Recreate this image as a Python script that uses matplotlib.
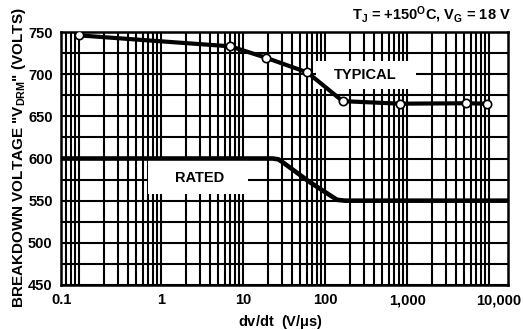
import matplotlib.pyplot as plt
from matplotlib.patches import Rectangle
from matplotlib.ticker import FixedLocator, LogLocator, NullFormatter
from matplotlib.transforms import ScaledTranslation

plt.rcParams['font.family'] = ['Liberation Sans', 'DejaVu Sans']
plt.rcParams['font.weight'] = 'bold'
plt.rcParams['mathtext.fontset'] = 'custom'
plt.rcParams['mathtext.rm'] = 'Liberation Sans:bold'
plt.rcParams['mathtext.it'] = 'Liberation Sans:bold'
plt.rcParams['mathtext.bf'] = 'Liberation Sans:bold'

# typical breakdown voltage (circles)
typ_dvdt = [0.1, 7.0, 19, 61, 164, 820, 5200, 9500]
typ_volts = [746, 733, 719.5, 702, 668, 665, 665.5, 665]

# rated breakdown voltage
rated_dvdt = [0.06, 23, 27, 31, 65, 140, 175, 17000]
rated_volts = [600, 600, 599, 595, 572, 551, 550, 550]

x_ticks = [0.1, 1, 10, 100, 1000, 10000]
x_labels = ['0.1', '1', '10', '100', '1,000', '10,000']
y_ticks = [450, 500, 550, 600, 650, 700, 750]

fig = plt.figure(figsize=(5.23, 3.30), dpi=100)
ax = fig.add_axes([61/523, 45/330, 447/523, 253/330])

# the printed grid runs a bit past 0.1 and 10,000
ax.set_xscale('log')
ax.set_xlim(0.0603, 17000)
ax.set_ylim(450, 750)
ax.xaxis.set_major_locator(FixedLocator(x_ticks))
ax.xaxis.set_minor_locator(LogLocator(base=10, subs=range(2, 10), numticks=20))
ax.xaxis.set_minor_formatter(NullFormatter())
ax.set_xticks(x_ticks)
ax.set_xticklabels(x_labels)
ax.set_yticks(y_ticks)
ax.yaxis.set_minor_locator(FixedLocator(range(475, 750, 50)))

ax.set_axisbelow(True)
ax.grid(True, which='both', color='black', linewidth=1.5)
ax.tick_params(which='both', length=0, labelsize=10.5)
ax.tick_params(axis='x', pad=6)
ax.tick_params(axis='y', pad=6)
for s in ax.spines.values():
    s.set_linewidth(1.8)

# labels at the ends sit off their grid lines, as printed
xl = ax.get_xticklabels()
xl[0].set_transform(xl[0].get_transform() + ScaledTranslation(-0.17, 0, fig.dpi_scale_trans))
xl[-1].set_transform(xl[-1].get_transform() + ScaledTranslation(0.10, 0, fig.dpi_scale_trans))

# white label boxes that break the grid
ax.add_patch(Rectangle((0.570, 0.775), 0.224, 0.111, transform=ax.transAxes,
                       facecolor='white', edgecolor='none', zorder=2))
ax.add_patch(Rectangle((0.195, 0.360), 0.224, 0.134, transform=ax.transAxes,
                       facecolor='white', edgecolor='none', zorder=2))
ax.text(0.680, 0.830, 'TYPICAL', transform=ax.transAxes, fontsize=10.5,
        fontweight='bold', ha='center', va='center', zorder=3)
ax.text(0.311, 0.423, 'RATED', transform=ax.transAxes, fontsize=10.5,
        fontweight='bold', ha='center', va='center', zorder=3)

ax.plot(rated_dvdt, rated_volts, color='black', linewidth=3.3,
        solid_capstyle='butt', zorder=5, clip_on=False)
ax.plot(typ_dvdt, typ_volts, color='black', linewidth=3.0, marker='o',
        markersize=6, markerfacecolor='white', markeredgecolor='black',
        markeredgewidth=1.2, zorder=6)

ax.set_xlabel(r'dv/dt  (V/$\mu$s)', fontsize=10.5, fontweight='bold')
ax.xaxis.set_label_coords(0.492, -0.112)
ax.set_ylabel(r'BREAKDOWN VOLTAGE "V$_{DRM}$" (VOLTS)', fontsize=11,
              fontweight='bold')
ax.yaxis.set_label_coords(-0.074, 0.505)
fig.text(0.977, 0.955, r'T$_J$ = +150$^O$C, V$_G$ = 18 V', fontsize=10.5,
         fontweight='bold', ha='right', va='center')

fig.savefig('out.png', dpi=100)
